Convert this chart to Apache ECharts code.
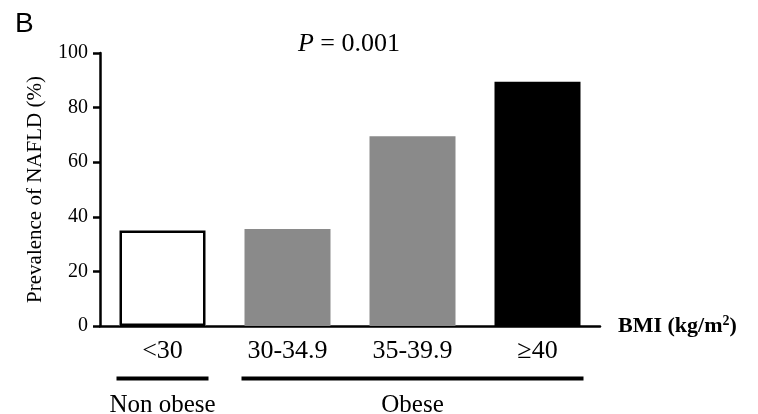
<!DOCTYPE html>
<html>
<head>
<meta charset="utf-8">
<script src="https://cdn.jsdelivr.net/npm/echarts@6/dist/echarts.min.js"></script>
<style>html,body{margin:0;padding:0;background:#fff;}#c{width:758px;height:414px;}</style>
</head>
<body>
<div id="c"></div>
<script>
const categories = ['<30', '30-34.9', '35-39.9', '≥40'];
const prevalence = [35, 35.5, 69.5, 89.5];
const yTicks = [0, 20, 40, 60, 80, 100];
const groups = [
  { name: 'Non obese', from: 0, to: 0 },
  { name: 'Obese', from: 1, to: 3 }
];
const barFill = ['#ffffff', '#8a8a8a', '#8a8a8a', '#000000'];

const serif = 'Liberation Serif';
const chart = echarts.init(document.getElementById('c'), null, { renderer: 'canvas' });
const grid = { left: 100, right: 158, top: 53, bottom: 88 };
chart.setOption({
  animation: false,
  backgroundColor: '#fff',
  textStyle: { fontFamily: serif, color: '#000' },
  grid: grid,
  xAxis: {
    type: 'category',
    data: categories,
    name: '{b|BMI (kg/m}{s|2}{b|)}',
    nameLocation: 'end',
    nameGap: 18,
    nameTextStyle: {
      fontFamily: serif,
      rich: {
        b: { fontFamily: serif, fontWeight: 'bold', fontSize: 22, color: '#000' },
        s: { fontFamily: serif, fontWeight: 'bold', fontSize: 14, color: '#000', verticalAlign: 'bottom', padding: [0, 0, 10, 0] }
      }
    },
    axisLine: { lineStyle: { color: '#000', width: 2.5 } },
    axisTick: { show: false },
    axisLabel: { fontFamily: serif, fontSize: 26, color: '#000', margin: 12 },
    splitLine: { show: false }
  },
  yAxis: {
    type: 'value',
    min: yTicks[0],
    max: yTicks[yTicks.length - 1],
    interval: yTicks[1] - yTicks[0],
    name: '{n|Prevalence of NAFLD (%)}',
    nameLocation: 'middle',
    nameGap: 54,
    nameTextStyle: { fontFamily: serif, fontSize: 21, color: '#000',
      rich: { n: { fontFamily: serif, fontSize: 21, color: '#000' } } },
    axisLine: { show: true, lineStyle: { color: '#000', width: 2.5 } },
    axisTick: { show: true, length: 7, lineStyle: { color: '#000', width: 2.5 } },
    axisLabel: { fontFamily: serif, fontSize: 20, color: '#000', margin: 12,
      formatter: '{a|{value}}',
      rich: { a: { fontFamily: serif, fontSize: 20, color: '#000' } } },
    splitLine: { show: false }
  },
  series: [{
    type: 'bar',
    data: prevalence,
    barWidth: 86,
    itemStyle: { color: p => barFill[p.dataIndex] },
    emphasis: { disabled: true }
  }, {
    type: 'bar',
    data: prevalence.map((v, i) => i === 0 ? v : '-'),
    barWidth: 86,
    barGap: '-100%',
    itemStyle: { color: '#fff', borderColor: '#000', borderWidth: 2.5 },
    emphasis: { disabled: true },
    z: 3
  }]
});

const half = 46;
const lineY = 378.5;
const gfx = [
  { type: 'text', left: 15, top: 10, style: { text: 'B', font: '28px "Liberation Sans"', fill: '#000' } },
  { type: 'text', x: 349, y: 44, style: { text: '{i|P} = 0.001', textAlign: 'center', textVerticalAlign: 'middle',
      rich: { i: { fontFamily: serif, fontStyle: 'italic', fontSize: 26, fill: '#000' } },
      font: '26px "Liberation Serif"', fill: '#000' } }
];
groups.forEach(g => {
  const x0 = chart.convertToPixel({ xAxisIndex: 0 }, g.from) - half;
  const x1 = chart.convertToPixel({ xAxisIndex: 0 }, g.to) + half;
  gfx.push({ type: 'line', shape: { x1: x0, y1: lineY, x2: x1, y2: lineY }, style: { stroke: '#000', lineWidth: 4 } });
  gfx.push({ type: 'text', x: (x0 + x1) / 2, y: 405, style: { text: g.name, font: '25px "Liberation Serif"', fill: '#000', textAlign: 'center', textVerticalAlign: 'middle' } });
});
chart.setOption({ graphic: gfx });
</script>
</body>
</html>
